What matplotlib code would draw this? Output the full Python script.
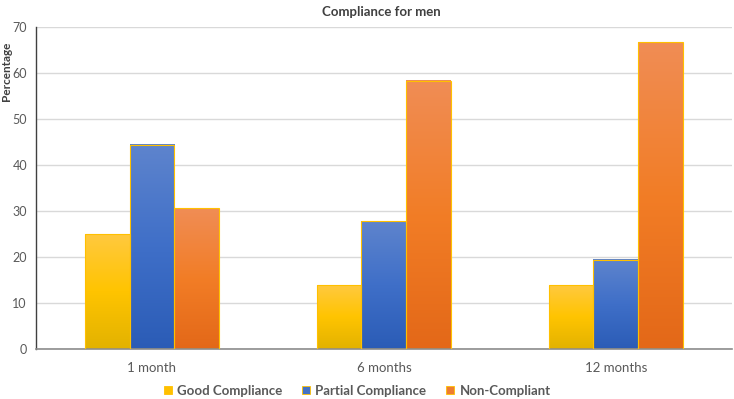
import matplotlib
matplotlib.use("Agg")
import matplotlib.pyplot as plt
import numpy as np
from matplotlib.colors import LinearSegmentedColormap
from matplotlib.lines import Line2D

categories = ["1 month", "6 months", "12 months"]
series_names = ["Good Compliance", "Partial Compliance", "Non-Compliant"]
good = [25.0, 13.9, 13.9]
partial = [44.4, 27.8, 19.4]
noncomp = [30.6, 58.3, 66.7]
yticks = [0, 10, 20, 30, 40, 50, 60, 70]

values = [good, partial, noncomp]
# gradient colors (bottom, middle, top)
grads = [
    ["#E2B200", "#FFC400", "#FFC93F"],
    ["#2B5CB6", "#3F6FC8", "#5E84CD"],
    ["#E36818", "#F27D26", "#F08D55"],
]
legend_colors = ["#FFC000", "#4472C4", "#ED7D31"]

plt.rcParams['font.family'] = ['Lato', 'DejaVu Sans']

fig = plt.figure(figsize=(7.34, 3.99), dpi=100)
ax = fig.add_axes([0.049, 0.1253, 0.948, 0.8067])

x = np.arange(len(categories))
w = 0.193
offsets = [-w, 0, w]
grad = np.linspace(0, 1, 256).reshape(-1, 1)
for i, (vals, cols) in enumerate(zip(values, grads)):
    cmap = LinearSegmentedColormap.from_list(f"g{i}", cols)
    bars = ax.bar(x + offsets[i], vals, width=w, color="none",
                  edgecolor="#FFC000", linewidth=0.8, zorder=3)
    for b in bars:
        x0 = b.get_x(); x1 = x0 + b.get_width(); h = b.get_height()
        ax.imshow(grad, cmap=cmap, origin="lower", aspect="auto",
                  extent=(x0, x1, 0, h), zorder=2)

ax.set_xlim(-0.5, 2.5)
ax.set_ylim(0, 70)
ax.set_yticks(yticks)
ax.set_xticks(x)
ax.set_xticklabels(categories)
ax.tick_params(axis='both', length=0, colors="#595959", labelsize=9.5)
ax.tick_params(axis='y', pad=6.5, labelsize=9)
ax.tick_params(axis='x', pad=9)
ax.grid(axis='y', color="#D9D9D9", linewidth=1, zorder=0)
ax.set_axisbelow(True)
for s in ["top", "right"]:
    ax.spines[s].set_visible(False)
ax.spines["left"].set_color("#404040")
ax.spines["left"].set_linewidth(1)
ax.spines["bottom"].set_color("#8C8C8C")
ax.spines["bottom"].set_linewidth(1.2)

fig.text(1 / 734, 1 - 71 / 399, "Percentage", rotation=90, ha="left", va="center",
         fontsize=8.5, fontweight="bold", color="#404040")
fig.text(0.52, 0.985, "Compliance for men", ha="center", va="top",
         fontsize=9.5, fontweight="bold", color="#404040")

handles = [Line2D([0], [0], marker="s", linestyle="none", markersize=6,
                  markerfacecolor=c, markeredgecolor="#FFC000", markeredgewidth=0.6)
           for c in legend_colors]
leg = fig.legend(handles, series_names, loc="center", bbox_to_anchor=(356 / 734, 1 - 391 / 399),
                 ncol=3, frameon=False, handletextpad=0.2, columnspacing=1.3,
                 handlelength=1.0, borderpad=0, borderaxespad=0,
                 prop={"weight": "bold", "size": 9.5})
for t in leg.get_texts():
    t.set_color("#595959")

fig.savefig("out.png", dpi=100)
